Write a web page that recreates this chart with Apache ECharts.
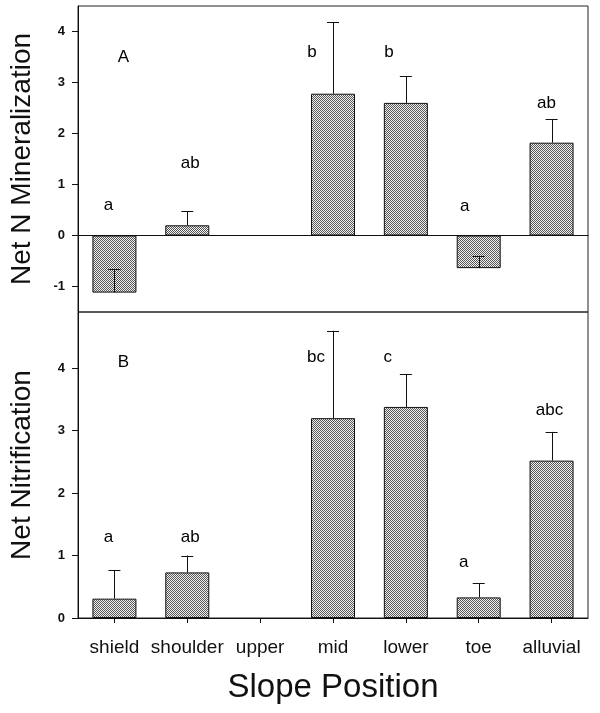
<!DOCTYPE html>
<html>
<head>
<meta charset="utf-8">
<script src="https://cdn.jsdelivr.net/npm/echarts@6/dist/echarts.min.js"></script>
<style>html,body{margin:0;padding:0;background:#fff}#c{width:600px;height:713px}</style>
</head>
<body>
<div id="c"></div>
<script>
// ---- data ----
const categories = ['shield', 'shoulder', 'upper', 'mid', 'lower', 'toe', 'alluvial'];
const mineralization = [-1.12, 0.20, null, 2.78, 2.60, -0.64, 1.82];
const mineralizationErrEnd = [-0.66, 0.48, null, 4.18, 3.12, -0.41, 2.28];
const nitrification = [0.31, 0.73, null, 3.20, 3.38, 0.33, 2.52];
const nitrificationErrEnd = [0.77, 1.00, null, 4.60, 3.90, 0.56, 2.98];
const mineralizationLetters = ['a', 'ab', '', 'b', 'b', 'a', 'ab'];
const mineralizationLetterY = [0.59, 1.42, null, 3.60, 3.60, 0.58, 2.60];
const nitrificationLetters = ['a', 'ab', '', 'bc', 'c', 'a', 'abc'];
const nitrificationLetterY = [1.30, 1.30, null, 4.18, 4.18, 0.89, 3.33];
const panelLabels = ['A', 'B'];
const panelLabelY = [3.5, 4.1];
const topTicks = [-1, 0, 1, 2, 3, 4];
const bottomTicks = [0, 1, 2, 3, 4];

// ---- layout (not data) ----
const topLetterDx = [-6, 3, 0, -21, -17, -14, -5];
const bottomLetterDx = [-6, 3, 0, -17, -18, -15, -2];
const panelLabelDx = 9;

// checker pattern fill
const pc = document.createElement('canvas');
pc.width = 2; pc.height = 2;
const pctx = pc.getContext('2d');
pctx.fillStyle = '#f2f2f2'; pctx.fillRect(0, 0, 2, 2);
pctx.fillStyle = '#555555'; pctx.fillRect(0, 0, 1, 1); pctx.fillRect(1, 1, 1, 1);
const pattern = { image: pc, repeat: 'repeat' };

const font = 'Liberation Sans, Arial, sans-serif';

function barData(vals) { return vals.map(v => v == null ? '-' : v); }
function errData(vals, ends) {
  const out = [];
  vals.forEach((v, i) => { if (v != null) out.push([i, v, ends[i]]); });
  return out;
}
function letterData(letters, ys, dx) {
  const out = [];
  letters.forEach((t, i) => {
    if (ys[i] != null) out.push({ value: [i, ys[i]], label: { formatter: t, offset: [dx[i], 0] } });
  });
  return out;
}
function renderErr(params, api) {
  const p0 = api.coord([api.value(0), api.value(1)]);
  const p1 = api.coord([api.value(0), api.value(2)]);
  const half = 6;
  const style = { stroke: '#111', lineWidth: 1 };
  return {
    type: 'group',
    children: [
      { type: 'line', shape: { x1: Math.round(p0[0]) + 0.5, y1: p0[1], x2: Math.round(p0[0]) + 0.5, y2: p1[1] }, style },
      { type: 'line', shape: { x1: p0[0] - half, y1: Math.round(p1[1]) + 0.5, x2: p0[0] + half, y2: Math.round(p1[1]) + 0.5 }, style }
    ]
  };
}

const letterLabel = { show: true, position: 'inside', color: '#000', opacity: 1, fontSize: 17, fontFamily: font };
const letterItem = { opacity: 1, color: '#000' };

const chart = echarts.init(document.getElementById('c'), null, { renderer: 'canvas' });
chart.setOption({
  animation: false,
  backgroundColor: '#fff',
  grid: [
    { left: 77, top: 6, width: 511, height: 306, show: true, borderColor: '#222', borderWidth: 1, backgroundColor: 'transparent' },
    { left: 77, top: 312, width: 511, height: 306, show: true, borderColor: '#222', borderWidth: 1, backgroundColor: 'transparent' }
  ],
  xAxis: [
    { type: 'category', gridIndex: 0, data: categories, boundaryGap: true,
      axisLine: { onZero: true, lineStyle: { color: '#111', width: 1 } },
      axisTick: { show: false }, axisLabel: { show: false } },
    { type: 'category', gridIndex: 1, data: categories, boundaryGap: true,
      axisLine: { lineStyle: { color: '#111', width: 1 } },
      axisTick: { show: true, alignWithLabel: true, length: 5, lineStyle: { color: '#111' } },
      axisLabel: { color: '#111', fontSize: 19, fontFamily: font, margin: 20, interval: 0 },
      name: 'Slope Position', nameLocation: 'middle', nameGap: 53,
      nameTextStyle: { fontSize: 33, color: '#111', fontFamily: font } }
  ],
  yAxis: [
    { type: 'value', gridIndex: 0, min: -1.5, max: 4.5,
      axisLine: { show: true, onZero: false, lineStyle: { color: '#111' } },
      axisTick: { show: true, length: 6, customValues: topTicks, lineStyle: { color: '#111' } },
      axisLabel: { customValues: topTicks, color: '#111', fontSize: 13, fontWeight: 'bold', fontFamily: font, margin: 13 },
      splitLine: { show: false },
      name: 'Net N Mineralization', nameLocation: 'middle', nameGap: 42,
      nameTextStyle: { fontSize: 28, color: '#111', fontFamily: font } },
    { type: 'value', gridIndex: 1, min: 0, max: 4.9,
      axisLine: { show: true, onZero: false, lineStyle: { color: '#111' } },
      axisTick: { show: true, length: 6, customValues: bottomTicks, lineStyle: { color: '#111' } },
      axisLabel: { customValues: bottomTicks, color: '#111', fontSize: 13, fontWeight: 'bold', fontFamily: font, margin: 13 },
      splitLine: { show: false },
      name: 'Net Nitrification', nameLocation: 'middle', nameGap: 42,
      nameTextStyle: { fontSize: 28, color: '#111', fontFamily: font } }
  ],
  series: [
    { type: 'bar', xAxisIndex: 0, yAxisIndex: 0, data: barData(mineralization), barWidth: 44,
      itemStyle: { color: pattern, borderColor: '#111', borderWidth: 1 } },
    { type: 'bar', xAxisIndex: 1, yAxisIndex: 1, data: barData(nitrification), barWidth: 44,
      itemStyle: { color: pattern, borderColor: '#111', borderWidth: 1 } },
    { type: 'custom', xAxisIndex: 0, yAxisIndex: 0, renderItem: renderErr, z: 5,
      encode: { x: 0, y: [1, 2] }, data: errData(mineralization, mineralizationErrEnd) },
    { type: 'custom', xAxisIndex: 1, yAxisIndex: 1, renderItem: renderErr, z: 5,
      encode: { x: 0, y: [1, 2] }, data: errData(nitrification, nitrificationErrEnd) },
    { type: 'scatter', xAxisIndex: 0, yAxisIndex: 0, symbolSize: 0, itemStyle: letterItem, label: letterLabel,
      data: letterData(mineralizationLetters, mineralizationLetterY, topLetterDx) },
    { type: 'scatter', xAxisIndex: 1, yAxisIndex: 1, symbolSize: 0, itemStyle: letterItem, label: letterLabel,
      data: letterData(nitrificationLetters, nitrificationLetterY, bottomLetterDx) },
    { type: 'scatter', xAxisIndex: 0, yAxisIndex: 0, symbolSize: 0, itemStyle: letterItem, label: letterLabel,
      data: [{ value: [0, panelLabelY[0]], label: { formatter: panelLabels[0], offset: [panelLabelDx, 0] } }] },
    { type: 'scatter', xAxisIndex: 1, yAxisIndex: 1, symbolSize: 0, itemStyle: letterItem, label: letterLabel,
      data: [{ value: [0, panelLabelY[1]], label: { formatter: panelLabels[1], offset: [panelLabelDx, 0] } }] }
  ]
});
</script>
</body>
</html>
